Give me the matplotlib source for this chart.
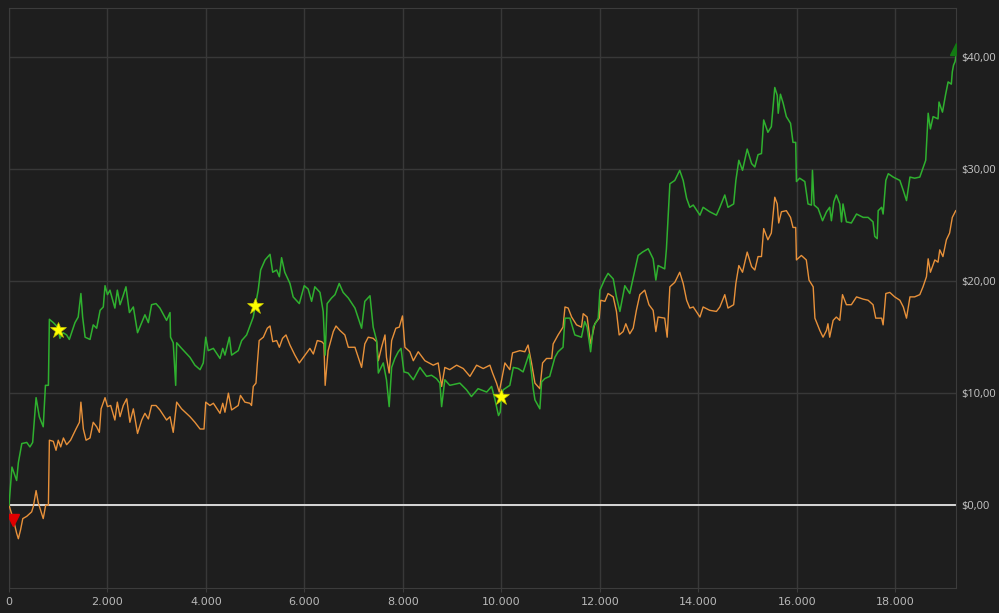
import matplotlib
matplotlib.use("Agg")
import matplotlib.pyplot as plt
import numpy as np
from matplotlib.ticker import FuncFormatter

# equity curves (trade number, $)
green_x = [0, 60, 100, 155, 190, 260, 360, 425, 480, 550, 615, 695, 740, 800, 820, 900, 990, 1035,
           1100, 1170, 1225, 1340, 1405, 1460, 1495, 1545, 1645, 1710, 1780, 1850, 1915, 1950, 2000,
           2050, 2150, 2200, 2255, 2310, 2375, 2445, 2525, 2610, 2695, 2760, 2830, 2895, 2985, 3065,
           3200, 3270, 3280, 3335, 3385, 3405, 3505, 3675, 3775, 3880, 3945, 3995, 4045, 4150, 4285,
           4340, 4385, 4475, 4520, 4655, 4725, 4825, 4960, 5030, 5060, 5110, 5200, 5300, 5355, 5435,
           5490, 5535, 5600, 5705, 5770, 5895, 5995, 6075, 6145, 6210, 6315, 6380, 6420, 6460, 6550,
           6620, 6705, 6785, 6890, 7025, 7160, 7225, 7330, 7395, 7465, 7500, 7600, 7665, 7720, 7770,
           7835, 7905, 7960, 8020, 8105, 8210, 8345, 8480, 8580, 8680, 8750, 8785, 8850, 8950, 9155,
           9290, 9390, 9525, 9700, 9800, 9865, 9940, 9975, 10000, 10035, 10170, 10240, 10340, 10440,
           10560, 10610, 10645, 10680, 10780, 10815, 10880, 10980, 11085, 11150, 11250, 11290, 11390,
           11490, 11625, 11690, 11740, 11810, 11865, 11965, 12000, 12100, 12165, 12270, 12335, 12405,
           12505, 12605, 12710, 12775, 12865, 12980, 13080, 13135, 13180, 13315, 13350, 13420, 13520,
           13620, 13690, 13760, 13825, 13895, 14030, 14095, 14230, 14365, 14435, 14535, 14600, 14715,
           14760, 14820, 14895, 14990, 15080, 15145, 15210, 15280, 15325, 15410, 15480, 15550, 15600,
           15620, 15665, 15720, 15785, 15870, 15920, 15975, 15990, 16055, 16160, 16225, 16295, 16315,
           16350, 16430, 16520, 16600, 16665, 16700, 16750, 16800, 16870, 16905, 16935, 17005, 17105,
           17210, 17345, 17445, 17545, 17580, 17630, 17650, 17720, 17750, 17805, 17855, 17955, 18090,
           18160, 18225, 18295, 18390, 18495, 18560, 18615, 18665, 18710, 18765, 18865, 18885, 18955,
           19020, 19070, 19135, 19155, 19180, 19210, 19230]
green_y = [0.0, 3.4, 2.9, 2.2, 3.8, 5.5, 5.6, 5.2, 5.6, 9.6, 7.9, 7.0, 10.7, 10.7, 16.6, 16.3, 15.9, 14.9,
           15.4, 15.2, 14.8, 16.3, 16.8, 18.9, 16.8, 15.0, 14.8, 16.1, 15.8, 17.4, 17.7, 19.6, 18.8,
           19.2, 17.6, 19.2, 17.9, 18.6, 19.5, 17.2, 17.7, 15.4, 16.3, 17.0, 16.3, 17.9, 18.0, 17.6,
           16.5, 17.2, 15.0, 14.5, 10.7, 14.5, 14.0, 13.2, 12.5, 12.1, 12.7, 15.0, 13.8, 14.0, 13.1,
           14.0, 13.4, 15.0, 13.4, 13.8, 14.7, 15.2, 16.8, 18.5, 19.2, 21.0, 21.9, 22.4, 20.8, 21.0,
           20.4, 22.1, 20.8, 19.8, 18.6, 18.0, 19.6, 19.3, 18.2, 19.5, 19.0, 17.3, 13.4, 18.0, 18.5,
           18.8, 19.8, 19.0, 18.5, 17.6, 15.8, 18.2, 18.7, 15.9, 14.7, 11.8, 12.7, 11.2, 8.8, 12.3,
           13.1, 13.7, 14.0, 11.9, 11.8, 11.2, 12.3, 11.5, 11.6, 11.3, 10.9, 8.8, 11.2, 10.7, 10.9,
           10.3, 9.7, 10.4, 10.1, 10.6, 9.5, 8.0, 8.3, 9.7, 10.3, 10.7, 12.3, 12.2, 11.9,
           13.5, 11.8, 10.4, 9.4, 8.6, 11.0, 11.3, 11.5, 13.2, 13.7, 14.1, 16.7, 16.7,
           15.2, 15.0, 16.4, 15.9, 13.7, 15.9, 16.7, 19.2, 20.2, 20.7, 20.2, 18.6, 17.3,
           19.6, 18.9, 21.0, 22.3, 22.6, 22.9, 22.0, 20.1, 21.4, 21.1, 22.9, 28.7, 29.0,
           29.9, 29.0, 27.4, 26.6, 26.8, 25.9, 26.6, 26.2, 25.9, 26.6, 27.7, 26.6, 26.9,
           29.0, 30.8, 29.9, 31.8, 30.5, 30.2, 31.3, 31.4, 34.4, 33.3, 33.8, 37.3, 36.6,
           35.0, 36.7, 35.9, 34.7, 34.1, 32.4, 32.4, 28.9, 29.2, 28.9, 26.9, 26.8, 29.9,
           26.8, 26.5, 25.4, 26.2, 26.6, 25.4, 27.1, 27.7, 26.9, 25.3, 26.9, 25.3, 25.2,
           26.0, 25.7, 25.7, 25.3, 24.0, 23.8, 26.3, 26.6, 26.0, 29.0, 29.6, 29.3, 29.0,
           28.1, 27.2, 29.3, 29.2, 29.3, 30.1, 30.8, 35.0, 33.6, 34.7, 34.5, 36.0, 35.1,
           36.7, 37.8, 37.6, 38.7, 39.3, 39.6, 40.1]

orange_x = [0, 90, 155, 190, 235, 280, 360, 460, 495, 550, 595, 660, 695, 745, 800, 820, 900, 955,
            1000, 1050, 1105, 1170, 1250, 1360, 1430, 1460, 1510, 1565, 1645, 1710, 1780, 1835, 1870,
            1950, 2000, 2065, 2150, 2200, 2255, 2320, 2390, 2455, 2525, 2610, 2695, 2760, 2830, 2895,
            2985, 3065, 3200, 3270, 3335, 3405, 3505, 3675, 3775, 3880, 3960, 3995, 4080, 4150, 4285,
            4340, 4385, 4455, 4520, 4655, 4700, 4790, 4890, 4925, 4960, 5015, 5040, 5080, 5165, 5245,
            5300, 5355, 5435, 5490, 5555, 5625, 5705, 5805, 5895, 6010, 6110, 6180, 6260, 6350, 6395,
            6420, 6480, 6585, 6640, 6720, 6820, 6890, 7025, 7160, 7225, 7295, 7395, 7465, 7500, 7565,
            7635, 7665, 7720, 7770, 7855, 7925, 7990, 8040, 8140, 8210, 8310, 8445, 8615, 8715, 8785,
            8850, 8950, 9090, 9225, 9360, 9495, 9630, 9765, 9820, 9900, 9955, 10070, 10170, 10225,
            10375, 10475, 10540, 10610, 10680, 10780, 10835, 10915, 11020, 11050, 11150, 11250, 11290,
            11355, 11425, 11525, 11625, 11660, 11740, 11810, 11895, 11985, 12015, 12100, 12165, 12270,
            12335, 12390, 12470, 12525, 12605, 12675, 12740, 12810, 12910, 12995, 13080, 13135, 13180,
            13315, 13365, 13420, 13520, 13620, 13690, 13760, 13825, 13895, 14030, 14095, 14230, 14365,
            14435, 14535, 14600, 14715, 14760, 14820, 14895, 14990, 15080, 15145, 15210, 15280, 15325,
            15410, 15480, 15550, 15600, 15630, 15685, 15785, 15870, 15920, 15975, 15990, 16090, 16190,
            16245, 16330, 16365, 16465, 16530, 16600, 16630, 16665, 16735, 16800, 16870, 16925, 17005,
            17105, 17210, 17345, 17445, 17545, 17600, 17720, 17750, 17805, 17885, 17985, 18090, 18160,
            18225, 18295, 18390, 18495, 18560, 18630, 18665, 18710, 18800, 18865, 18900, 18965, 19035,
            19100, 19155, 19225]
orange_y = [0.0, -1.3, -2.5, -3.0, -2.2, -1.2, -1.0, -0.6, -0.1, 1.3, 0.2, -0.7, -1.2, 0.0, 0.0, 5.8,
            5.7, 4.9, 5.8, 5.2, 6.0, 5.4, 5.8, 6.8, 7.4, 9.2, 6.8, 5.8, 6.0, 7.4, 7.0, 6.5, 8.6, 9.6,
            8.8, 8.9, 7.6, 9.2, 7.9, 8.9, 9.5, 7.4, 8.6, 6.4, 7.6, 8.2, 7.7, 8.9, 8.9, 8.5, 7.6, 7.9,
            6.5, 9.2, 8.6, 7.9, 7.4, 6.8, 6.8, 9.2, 8.9, 9.1, 8.2, 9.1, 8.3, 10.0, 8.5, 8.9, 9.8, 9.2,
            9.1, 8.9, 10.6, 10.9, 12.5, 14.7, 15.0, 15.8, 16.0, 14.6, 14.7, 14.1, 14.9, 15.2, 14.3,
            13.4, 12.7, 13.4, 14.0, 13.5, 14.7, 14.6, 14.4, 10.7, 13.8, 15.5, 16.0, 15.6, 15.2, 14.1,
            14.1, 12.3, 14.4, 15.0, 14.9, 14.6, 12.9, 14.1, 15.2, 13.2, 11.8, 14.7, 15.8, 15.9, 16.9,
            14.1, 13.7, 12.9, 13.7, 12.9, 12.5, 12.7, 10.6, 12.3, 12.1, 12.5, 12.2, 11.5, 12.5, 12.2,
            12.5, 11.8, 10.9, 10.1, 12.7, 12.1, 13.6, 13.8, 13.7, 14.3, 12.7, 10.9, 10.4, 12.7, 13.1,
            13.1, 14.4, 15.2, 15.9, 17.7, 17.6, 16.8, 16.1, 15.9, 17.1, 16.8, 14.4, 16.2, 16.7, 18.3,
            18.2, 18.9, 18.6, 17.3, 15.2, 15.5, 16.2, 15.3, 15.8, 17.4, 18.8, 19.2, 17.9, 17.4, 15.5,
            16.8, 16.7, 15.0, 19.5, 19.9, 20.8, 19.8, 18.3, 17.6, 17.7, 16.8, 17.7, 17.4, 17.3, 17.7,
            18.8, 17.6, 17.9, 19.8, 21.4, 20.8, 22.6, 21.3, 21.0, 22.2, 22.2, 24.7, 23.7, 24.3, 27.5,
            26.9, 25.2, 26.2, 26.3, 25.7, 24.8, 24.8, 21.9, 22.3, 21.9, 20.1, 19.5, 16.7, 15.6, 15.0,
            15.6, 16.2, 15.0, 16.5, 16.8, 16.5, 18.8, 17.9, 17.9, 18.6, 18.4, 18.3, 17.9, 16.7, 16.7,
            16.1, 18.9, 19.0, 18.6, 18.3, 17.7, 16.7, 18.6, 18.6, 18.8, 19.5, 20.4, 22.0, 20.8, 21.9,
            21.7, 22.8, 22.2, 23.7, 24.3, 25.7, 26.3]

milestones = [1000, 5000, 10000]
x_ticks = [0, 2000, 4000, 6000, 8000, 10000, 12000, 14000, 16000, 18000]
y_ticks = [0, 10, 20, 30, 40]

bg = "#1e1e1e"
fig = plt.figure(figsize=(9.99, 6.13), dpi=100, facecolor=bg)
ax = fig.add_axes([9 / 999, 25 / 613, 947 / 999, 580 / 613])
ax.set_facecolor(bg)

ax.grid(True, color="#383838", lw=1.0, zorder=0)
ax.axhline(0, color="#d8d8d8", lw=1.4, zorder=2)

ax.plot(orange_x, orange_y, color="#e8913a", lw=1.0, zorder=3)
ax.plot(green_x, green_y, color="#2fb02f", lw=1.1, zorder=4)

star_y = np.interp(milestones, green_x, green_y)
ax.plot(milestones, star_y, ls="none", marker="*", ms=12, mfc="#ffff00", mec="#c8c800",
        mew=0.5, zorder=6)
ax.plot(orange_x[1], orange_y[1], marker="v", ms=8, color="#e00000", zorder=6)
ax.plot(green_x[-1], green_y[-1] + 0.6, marker="^", ms=8, color="#137a13", zorder=6)

ax.set_xlim(0, 19230)
ax.set_ylim(-7.4, 44.4)
ax.set_xticks(x_ticks)
ax.set_yticks(y_ticks)
ax.xaxis.set_major_formatter(FuncFormatter(lambda v, p: f"{int(v):,}".replace(",", ".")))
ax.yaxis.set_major_formatter(FuncFormatter(lambda v, p: f"${int(v)},00"))
ax.yaxis.tick_right()

for s in ax.spines.values():
    s.set_color("#3c3c3c")
ax.tick_params(axis="x", colors="#3c3c3c", labelcolor="#b8b8b8", labelsize=8, length=3)
ax.tick_params(axis="y", length=0, labelcolor="#c8c8c8", labelsize=8, pad=4)
for lab in ax.get_xticklabels():
    lab.set_family(["Liberation Sans Narrow", "DejaVu Sans"])
for lab in ax.get_yticklabels():
    lab.set_family(["Open Sans", "DejaVu Sans"])

fig.savefig("out.png", dpi=100, facecolor=bg)
